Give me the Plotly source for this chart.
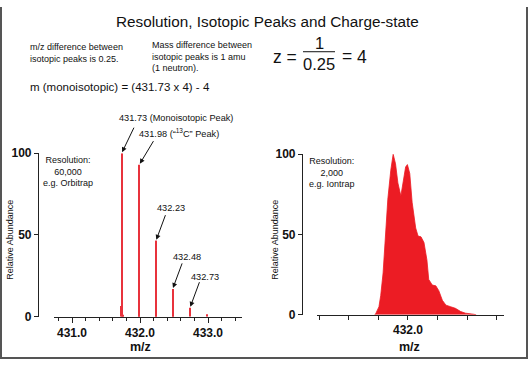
import plotly.graph_objects as go

W, H = 528, 366

# ---------------- text content ----------------
title_text = "Resolution, Isotopic Peaks and Charge-state"
note_mz = "m/z difference between<br>isotopic peaks is 0.25."
note_mass = "Mass difference between<br>isotopic peaks is 1 amu<br>(1 neutron)."
formula_text = "m (monoisotopic) = (431.73 x 4) - 4"
frac_num = "1"
frac_den = "0.25"
charge = "4"
res_left = "Resolution:<br>60,000<br>e.g. Orbitrap"
res_right = "Resolution:<br>2,000<br>e.g. Iontrap"
y_title = "Relative Abundance"
x_title = "m/z"

# ---------------- high resolution (centroid-like) peaks ----------------
hr_mz = [431.718, 431.73, 431.744, 431.985, 431.99, 432.229, 432.238, 432.48, 432.49, 432.735, 432.985]
hr_int = [6.5, 100, 1.2, 42, 93, 46.5, 46.5, 17, 8, 5.5, 1.5]

label_mz = [431.73, 431.99, 432.235, 432.48, 432.735]
label_int = [100, 93, 46.5, 17, 5.5]
label_text = ["431.73 (Monoisotopic Peak)",
              "431.98 (\u201c<sup>13</sup>C\u201d Peak)",
              "432.23", "432.48", "432.73"]

# ---------------- low resolution profile ----------------
lr_mz = [431.44, 431.46, 431.51, 431.54, 431.58, 431.62, 431.66, 431.71, 431.75,
         431.79, 431.83, 431.88, 431.92, 431.96, 431.99, 432.03, 432.07, 432.13,
         432.17, 432.22, 432.27, 432.32, 432.35, 432.41, 432.47, 432.52, 432.58,
         432.64, 432.72, 432.80, 432.89, 432.97, 433.11, 433.15]
lr_int = [0, 1, 5, 12, 26, 50, 72, 90, 100,
          94, 82, 74, 84, 92, 93.5, 88, 70, 54,
          49, 48.5, 45, 34, 22, 18.5, 18, 15, 9,
          6, 5, 4, 2, 1, 0.3, 0]

hr_ticks = [431.0, 432.0, 433.0]
lr_tickvals = [430.5, 431.0, 431.5, 432.0, 432.5, 433.0, 433.5]
lr_ticktext = ["", "", "", "432.0", "", "", ""]
y_ticks = [0, 50, 100]

RED = "#ec1c24"
AX = "#222222"
FONT = "Arial, Liberation Sans, sans-serif"


def px(x):
    return x / W


def py(y):
    return 1 - y / H


fig = go.Figure()
fig.add_trace(go.Bar(x=hr_mz, y=hr_int, width=0.016, marker=dict(color="#e8323c", line=dict(width=0)),
                     xaxis="x", yaxis="y", showlegend=False))
fig.add_trace(go.Scatter(x=lr_mz, y=lr_int, mode="lines", fill="tozeroy", fillcolor=RED,
                         line=dict(color=RED, width=0.8), xaxis="x2", yaxis="y2", showlegend=False))

tickfont = dict(family=FONT, size=12, color="#111", weight="bold")
common_x = dict(showline=True, linecolor=AX, linewidth=1.2, showgrid=False, zeroline=False,
                ticks="outside", tickcolor=AX, tickfont=tickfont, fixedrange=True)
common_y = dict(showline=True, linecolor=AX, linewidth=1.2, showgrid=False, zeroline=False,
                ticks="outside", ticklen=4, tickcolor=AX, tickfont=tickfont, anchor="free",
                range=[0, 100], tickvals=y_ticks, fixedrange=True)

layout = dict(
    width=W, height=H, margin=dict(l=0, r=0, t=0, b=0), autosize=False,
    paper_bgcolor="white", plot_bgcolor="white", barmode="overlay",
    font=dict(family=FONT, color="#111"),
    xaxis=dict(common_x, domain=[px(54), px(242)], range=[430.735, 433.5], anchor="y",
               tickvals=hr_ticks, tickformat=".1f", ticklen=5,
               minor=dict(tickmode="linear", tick0=431.0, dtick=0.2, ticks="outside",
                          ticklen=3, tickcolor=AX, showgrid=False)),
    yaxis=dict(common_y, domain=[py(322), py(152)], position=px(38)),
    xaxis2=dict(common_x, domain=[px(317), px(504)], range=[430.465, 433.62], anchor="y2",
                tickvals=lr_tickvals, ticktext=lr_ticktext, ticklen=4),
    yaxis2=dict(common_y, domain=[py(320), py(153)], position=px(302)),
)
fig.update_layout(**layout)

ann = []


def text(x, y, s, size, xanchor="center", bold=False, angle=0, align="center"):
    ann.append(dict(x=px(x), y=py(y), xref="paper", yref="paper", text=s, showarrow=False,
                    xanchor=xanchor, yanchor="middle", align=align, textangle=angle,
                    font=dict(family=FONT, size=size, color="#111",
                              weight="bold" if bold else "normal")))


text(267, 15, title_text, 15.3)
text(28, 48, note_mz, 9, xanchor="left", align="left")
text(150, 51, note_mass, 9, xanchor="left", align="left")
text(28, 83, formula_text, 11.5, xanchor="left", align="left")
text(285, 52, "z =", 17.5)
text(319, 37, frac_num, 16.5)
text(319, 59, frac_den, 16.5)
text(347, 51, "=", 17.5)
text(362, 52, charge, 17.5)
text(68, 171, res_left, 9)
text(332, 172, res_right, 9)
text(10, 242, y_title, 9, angle=-90)
text(275, 242, y_title, 9, angle=-90)
text(140, 354, x_title, 12.5, bold=True)
text(409, 354, x_title, 12.5, bold=True)

# peak labels and arrows (offsets in pixels)
text_shift = [(54, 35), (40, 32), (15, 33), (14, 32), (15, 31)]
arrow_tail = [(13, -27), (15, -25), (10, -27), (10, -27), (10, -27)]
for m, h, s, (dx, dy), (ax_, ay_) in zip(label_mz, label_int, label_text, text_shift, arrow_tail):
    ann.append(dict(x=m, y=h, xref="x", yref="y", text=s, showarrow=False,
                    xshift=dx, yshift=dy, xanchor="center", yanchor="middle",
                    font=dict(family=FONT, size=9.2, color="#111")))
    ann.append(dict(x=m, y=h, xref="x", yref="y", text="", showarrow=True, ax=ax_, ay=ay_,
                    arrowhead=2, arrowsize=1, arrowwidth=1, arrowcolor="#111", standoff=1))

fig.update_layout(annotations=ann)

shapes = [
    dict(type="line", xref="paper", yref="paper", x0=px(303), x1=px(335), y0=py(46.5), y1=py(46.5),
         line=dict(color="#111", width=1)),
    dict(type="line", xref="paper", yref="paper", x0=px(1), x1=px(1), y0=0, y1=1,
         line=dict(color="#555", width=2)),
    dict(type="line", xref="paper", yref="paper", x0=px(527), x1=px(527), y0=0, y1=1,
         line=dict(color="#555", width=2)),
    dict(type="line", xref="paper", yref="paper", x0=0, x1=1, y0=py(365), y1=py(365),
         line=dict(color="#555", width=2)),
]
fig.update_layout(shapes=shapes)

page_fix = (
    "document.documentElement.style.margin='0';"
    "document.documentElement.style.padding='0';"
    "document.documentElement.style.overflow='hidden';"
    "document.body.style.margin='0';"
    "document.body.style.padding='0';"
    "document.body.style.overflow='hidden';"
    "var gd=document.getElementById('{plot_id}');"
    "gd.style.position='fixed';gd.style.left='0px';gd.style.top='0px';"
    "window.scrollTo(0,0);"
)
fig.write_html("out.html", config=dict(displayModeBar=False, responsive=False),
               post_script=page_fix)
